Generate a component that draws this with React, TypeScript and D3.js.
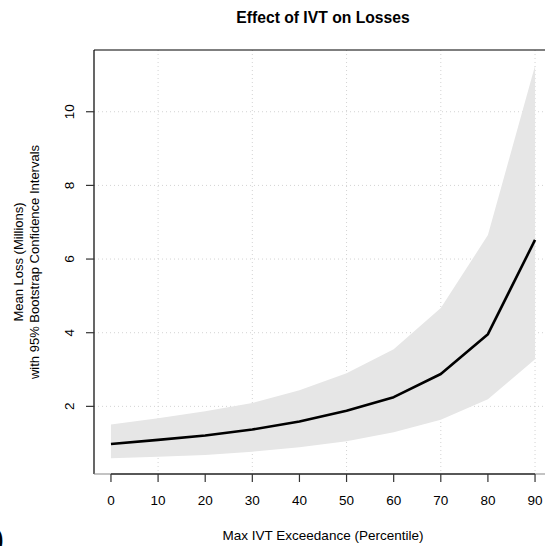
import React from "react";
import * as d3 from "d3";

const percentiles = [0, 10, 20, 30, 40, 50, 60, 70, 80, 90];
const meanLoss = [0.98, 1.09, 1.21, 1.37, 1.59, 1.88, 2.25, 2.88, 3.96, 6.52];
const lowerCI = [0.59, 0.63, 0.68, 0.77, 0.89, 1.05, 1.3, 1.64, 2.19, 3.28];
const upperCI = [1.51, 1.68, 1.87, 2.09, 2.44, 2.9, 3.55, 4.67, 6.65, 11.25];
const xTicks = [0, 10, 20, 30, 40, 50, 60, 70, 80, 90];
const yTicks = [2, 4, 6, 8, 10];
const xGrid = [10, 30, 50, 70, 90];

const title = "Effect of IVT on Losses";
const xLabel = "Max IVT Exceedance (Percentile)";
const yLabel1 = "Mean Loss (Millions)";
const yLabel2 = "with 95% Bootstrap Confidence Intervals";

export default function App() {
  const W = 545, H = 546;
  const left = 94, right = 552, top = 50, bottom = 474;
  const font = "'Liberation Sans', Arial, Helvetica, sans-serif";

  const xMinD = 0, xMaxD = 90;
  const xPad = (xMaxD - xMinD) * 0.04;
  const yLo = d3.min(lowerCI)!, yHi = d3.max(upperCI)!;
  const yPad = (yHi - yLo) * 0.04;

  const x = d3.scaleLinear().domain([xMinD - xPad, xMaxD + xPad]).range([left, right]);
  const y = d3.scaleLinear().domain([yLo - yPad, yHi + yPad]).range([bottom, top]);

  const data = percentiles.map((p, i) => ({ p, m: meanLoss[i], lo: lowerCI[i], hi: upperCI[i] }));
  const area = d3.area<any>().x(d => x(d.p)).y0(d => y(d.lo)).y1(d => y(d.hi));
  const line = d3.line<any>().x(d => x(d.p)).y(d => y(d.m));

  return (
    <svg width={W} height={H} style={{ position: "absolute", left: 0, top: 0, background: "#fff" }} fontFamily={font}>
      <rect x={0} y={0} width={W} height={H} fill="#fff" />
      {/* grid */}
      {xGrid.map(t => (
        <line key={"gx" + t} x1={x(t)} x2={x(t)} y1={top} y2={bottom} stroke="#d3d3d3" strokeWidth={1} strokeDasharray="1,3" />
      ))}
      {yTicks.map(t => (
        <line key={"gy" + t} x1={left} x2={right} y1={y(t)} y2={y(t)} stroke="#d3d3d3" strokeWidth={1} strokeDasharray="1,3" />
      ))}
      {/* ribbon */}
      <path d={area(data)!} fill="#e6e6e6" stroke="none" />
      {/* mean line */}
      <path d={line(data)!} fill="none" stroke="#000" strokeWidth={2.6} strokeLinejoin="round" />
      {/* box */}
      <line x1={left} x2={right} y1={top} y2={top} stroke="#000" strokeWidth={1.2} />
      <line x1={left} x2={left} y1={top} y2={bottom} stroke="#000" strokeWidth={1.2} />
      <line x1={left} x2={right} y1={bottom} y2={bottom} stroke="#888" strokeWidth={1.2} />
      {/* x axis */}
      <line x1={x(xTicks[0])} x2={x(xTicks[xTicks.length - 1])} y1={bottom} y2={bottom} stroke="#333" strokeWidth={1.5} />
      {xTicks.map(t => (
        <g key={"xt" + t}>
          <line x1={x(t)} x2={x(t)} y1={bottom} y2={bottom + 8} stroke="#333" strokeWidth={1.2} />
          <text x={x(t)} y={505} textAnchor="middle" fontSize={13.5} fill="#000">{t}</text>
        </g>
      ))}
      {/* y axis */}
      {yTicks.map(t => (
        <g key={"yt" + t}>
          <line x1={left - 8} x2={left} y1={y(t)} y2={y(t)} stroke="#333" strokeWidth={1.2} />
          <text transform={`translate(${74},${y(t)}) rotate(-90)`} textAnchor="middle" fontSize={13.5} fill="#000">{t}</text>
        </g>
      ))}
      {/* labels */}
      <text x={(left + right) / 2} y={23} textAnchor="middle" fontSize={15.7} fontWeight="bold" fill="#000">{title}</text>
      <text x={(left + right) / 2} y={540} textAnchor="middle" fontSize={13.5} fill="#000">{xLabel}</text>
      <text transform={`translate(${23},${(top + bottom) / 2}) rotate(-90)`} textAnchor="middle" fontSize={13} fill="#000">{yLabel1}</text>
      <text transform={`translate(${39},${(top + bottom) / 2}) rotate(-90)`} textAnchor="middle" fontSize={13} fill="#000">{yLabel2}</text>
      <text x={-7} y={550} fontSize={30} fontFamily="'DejaVu Serif', serif" fill="#000">)</text>
    </svg>
  );
}
